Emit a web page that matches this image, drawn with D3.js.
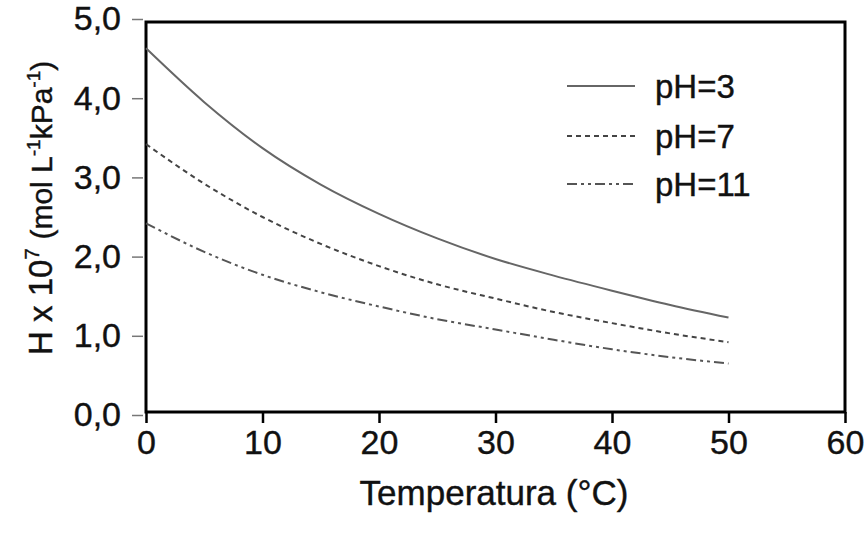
<!DOCTYPE html>
<html>
<head>
<meta charset="utf-8">
<script src="https://cdn.jsdelivr.net/npm/d3@7"></script>
<style>
  body { margin: 0; background: #fff; }
  text { font-family: "Liberation Sans", Arial, sans-serif; fill: #111; stroke: #111; stroke-width: 0.4px; }
</style>
</head>
<body>
<div id="chart"></div>
<script>
// temperatures (°C) and Henry constants
var temps = [0, 5, 10, 15, 20, 25, 30, 35, 40, 45, 50];
var ph3 = [4.63, 3.95, 3.37, 2.91, 2.54, 2.23, 1.97, 1.76, 1.57, 1.39, 1.23];
var ph7 = [3.42, 2.92, 2.50, 2.16, 1.88, 1.65, 1.47, 1.30, 1.16, 1.03, 0.92];
var ph11 = [2.42, 2.06, 1.77, 1.55, 1.37, 1.21, 1.08, 0.95, 0.83, 0.73, 0.65];
var seriesNames = ["pH=3", "pH=7", "pH=11"];
var xTicks = [0, 10, 20, 30, 40, 50, 60];
var yTicks = [0, 1, 2, 3, 4, 5];

let width = 867, height = 538;

let svg = d3.select('#chart')
  .append('svg')
  .attr('width', width)
  .attr('height', height);

let x = d3.scaleLinear().domain([0, 60]).range([146, 845]);
let y = d3.scaleLinear().domain([0, 5]).range([415, 19]);

/** frame of the plot */
svg.append('rect')
  .attr('x', 146).attr('y', 22)
  .attr('width', 845 - 146).attr('height', 412 - 22)
  .attr('fill', 'none')
  .attr('stroke', '#000')
  .attr('stroke-width', 3);

/** x axis, ticks hanging below the frame */
let xAxis = svg.append('g')
  .attr('transform', 'translate(0,412)')
  .call(d3.axisBottom(x).tickValues(xTicks).tickSize(11).tickSizeOuter(0).tickPadding(7));
xAxis.select('.domain').remove();
xAxis.selectAll('.tick line').attr('stroke', '#000').attr('stroke-width', 2.5);
xAxis.selectAll('.tick text')
  .style('font-size', '34px')
  .style('font-family', '"Liberation Sans", Arial, sans-serif')
  .attr('fill', '#111');

/** y axis, offset left of the frame */
let yAxis = svg.append('g')
  .attr('transform', 'translate(143,0)')
  .call(d3.axisLeft(y).tickValues(yTicks).tickSize(11).tickSizeOuter(0).tickPadding(11)
    .tickFormat(d => d3.format('.1f')(d).replace('.', ',')));
yAxis.select('.domain').remove();
yAxis.selectAll('.tick line').attr('stroke', '#777').attr('stroke-width', 1.5);
yAxis.selectAll('.tick text')
  .style('font-size', '34px')
  .style('font-family', '"Liberation Sans", Arial, sans-serif')
  .attr('fill', '#111');

/** curves */
let styles = [
  { color: '#666', dash: null },
  { color: '#444', dash: '5,4' },
  { color: '#555', dash: '10,4,3,4,3,4' }
];
let allSeries = [ph3, ph7, ph11];

let line = d3.line()
  .x((d, i) => x(temps[i]))
  .y(d => y(d))
  .curve(d3.curveMonotoneX);

allSeries.forEach(function (vals, k) {
  svg.append('path')
    .datum(vals)
    .attr('d', line)
    .attr('fill', 'none')
    .attr('stroke', styles[k].color)
    .attr('stroke-width', 2)
    .attr('stroke-dasharray', styles[k].dash);
});

/** legend */
let legendY = [86, 136, 184];
seriesNames.forEach(function (name, k) {
  svg.append('line')
    .attr('x1', 567).attr('x2', 635)
    .attr('y1', legendY[k]).attr('y2', legendY[k])
    .attr('stroke', styles[k].color)
    .attr('stroke-width', 2)
    .attr('stroke-dasharray', styles[k].dash);
  svg.append('text')
    .attr('x', 655).attr('y', legendY[k])
    .attr('dy', '0.35em')
    .style('font-size', '33px')
    .text(name);
});

/** axis titles */
svg.append('text')
  .attr('x', 494).attr('y', 505)
  .attr('text-anchor', 'middle')
  .style('font-size', '35px')
  .text('Temperatura (°C)');

let yt = svg.append('text')
  .attr('transform', 'translate(52,355) rotate(-90)')
  .style('font-size', '33px');
yt.append('tspan').text('H x 10');
yt.append('tspan').attr('dy', -13).style('font-size', '21px').text('7');
yt.append('tspan').attr('dy', 13).style('font-size', '30px').text(' (mol L');
yt.append('tspan').attr('dy', -12).style('font-size', '19px').text('-1');
yt.append('tspan').attr('dy', 12).style('font-size', '30px').text('kPa');
yt.append('tspan').attr('dy', -12).style('font-size', '19px').text('-1');
yt.append('tspan').attr('dy', 12).style('font-size', '30px').text(')');
</script>
</body>
</html>
